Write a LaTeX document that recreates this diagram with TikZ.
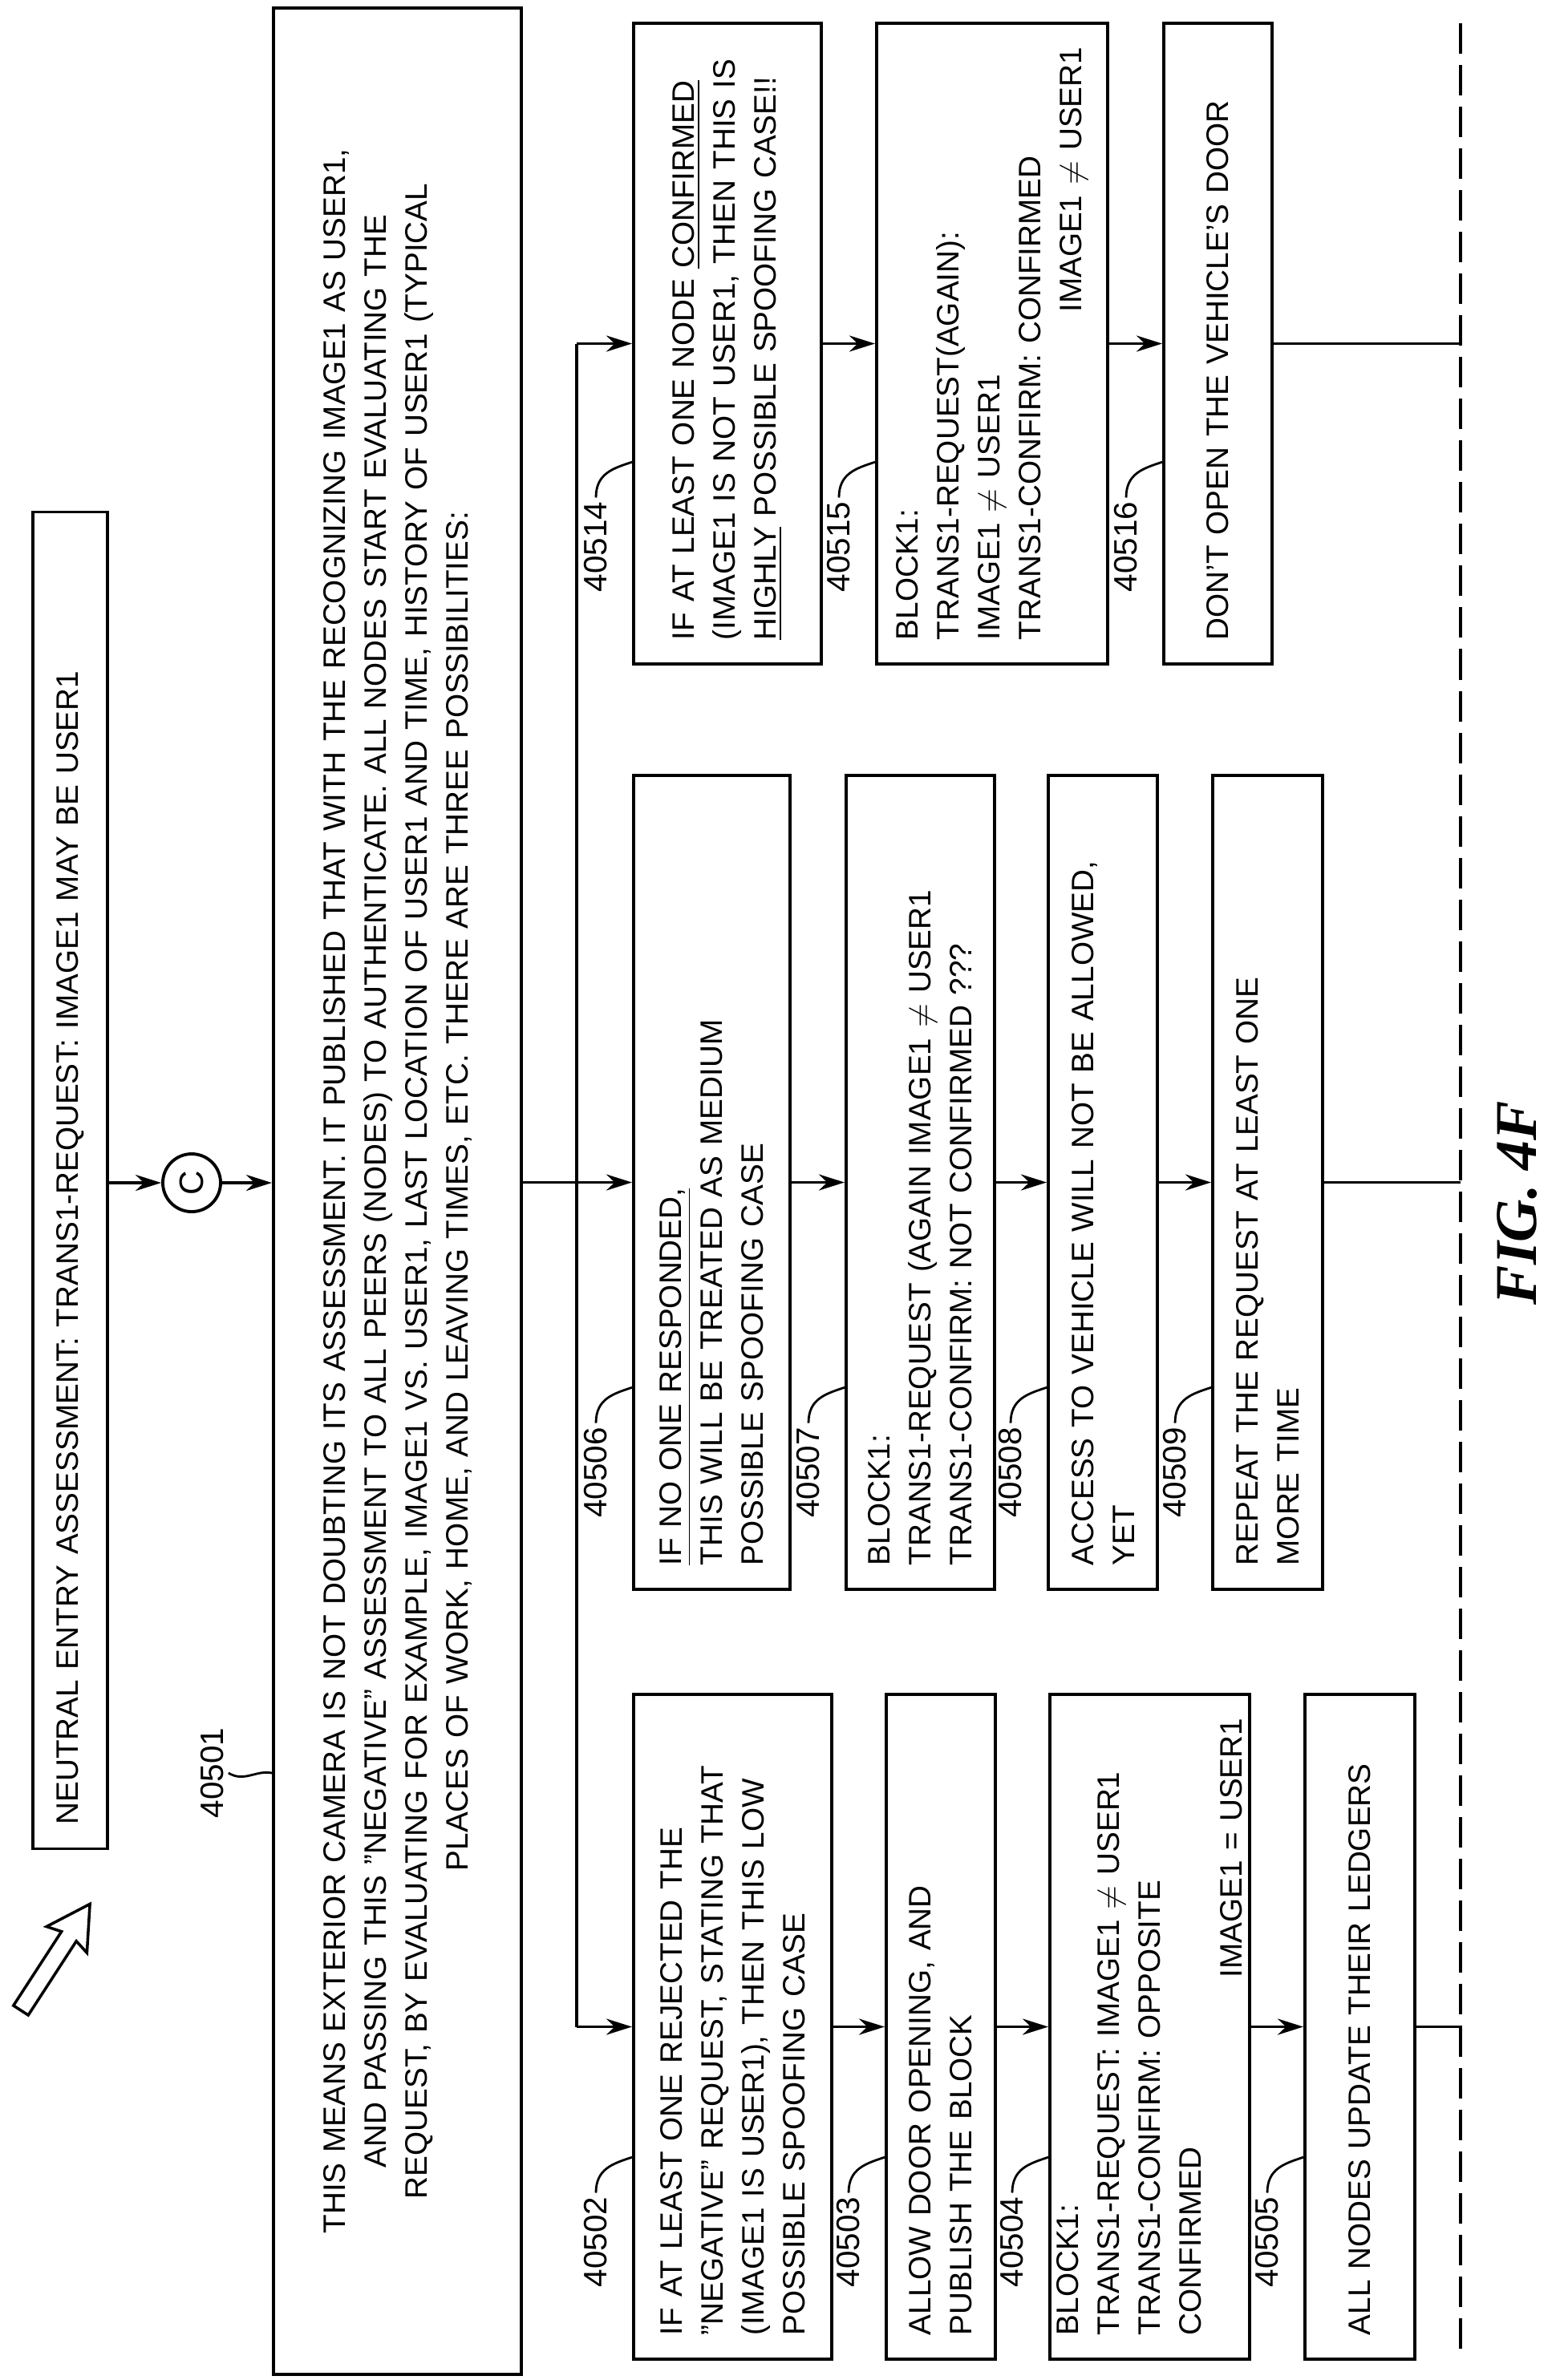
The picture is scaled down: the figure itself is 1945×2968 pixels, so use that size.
\documentclass[tikz,border=0pt]{standalone}
\usepackage{fontspec}
\setmainfont{Liberation Sans}
\newfontfamily\figfont{Liberation Serif}
\usetikzlibrary{arrows.meta,calc}
\begin{document}
\begin{tikzpicture}[x=0.01cm,y=-0.01cm,line width=1.1pt,
  box/.style={draw, rotate=90, inner xsep=0.3cm, inner ysep=0pt, align=left,
    font=\fontsize{11}{14.5}\selectfont},
  lbl/.style={rotate=90, inner sep=1pt, font=\fontsize{11.5}{13}\selectfont},
  flow/.style={-{Stealth[length=0.32cm,width=0.2cm]}}]
\useasboundingbox (0,0) rectangle (1945,2968);
% top of the chart
\node[box, minimum width=16.66cm, minimum height=0.93cm, text width=16.06cm] (entry) at (87.5,1472)
  {NEUTRAL ENTRY ASSESSMENT: TRANS1-REQUEST: IMAGE1 MAY BE USER1};
\node[draw, circle, minimum size=0.72cm, inner sep=0pt, rotate=90, font=\fontsize{12}{14}\selectfont] (C) at (239,1475) {C};
\node[box, align=center, minimum width=29.13cm, minimum height=3.09cm, text width=28.9cm] (n501) at (495.5,1485.5)
  {THIS MEANS EXTERIOR CAMERA IS NOT DOUBTING ITS ASSESSMENT. IT PUBLISHED THAT WITH THE RECOGNIZING IMAGE1 AS USER1,\\
   AND PASSING THIS \symbol{34}NEGATIVE\symbol{34} ASSESSMENT TO ALL PEERS (NODES) TO AUTHENTICATE. ALL NODES START EVALUATING THE\\
   REQUEST, BY EVALUATING FOR EXAMPLE, IMAGE1 VS. USER1, LAST LOCATION OF USER1 AND TIME, HISTORY OF USER1 (TYPICAL\\
   PLACES OF WORK, HOME, AND LEAVING TIMES, ETC. THERE ARE THREE POSSIBILITIES:};
% left branch
\node[box, minimum width=8.29cm, minimum height=2.47cm, text width=7.69cm] (n502) at (913.5,2527.5)
  {IF AT LEAST ONE REJECTED THE\\ \symbol{34}NEGATIVE\symbol{34} REQUEST, STATING THAT\\ (IMAGE1 IS USER1), THEN THIS LOW\\ POSSIBLE SPOOFING CASE};
\node[box, minimum width=8.29cm, minimum height=1.36cm, text width=7.69cm] (n503) at (1173,2527.5)
  {ALLOW DOOR OPENING, AND\\ PUBLISH THE BLOCK};
\node[box, minimum width=8.29cm, minimum height=2.49cm, text width=7.69cm] (n504) at (1433.5,2527.5)
  {BLOCK1:\\ TRANS1-REQUEST: IMAGE1 $\neq$ USER1\\ TRANS1-CONFIRM: OPPOSITE\\ CONFIRMED\\ \hspace*{\fill}IMAGE1 = USER1};
\node[box, minimum width=8.29cm, minimum height=1.37cm, text width=7.69cm] (n505) at (1695.5,2527.5)
  {ALL NODES UPDATE THEIR LEDGERS};
% middle branch
\node[box, minimum width=10.15cm, minimum height=1.95cm, text width=9.55cm] (n506) at (887.5,1474.5)
  {\underline{IF NO ONE RESPONDED,}\\ THIS WILL BE TREATED AS MEDIUM\\ POSSIBLE SPOOFING CASE};
\node[box, minimum width=10.15cm, minimum height=1.85cm, text width=9.55cm] (n507) at (1147.5,1474.5)
  {BLOCK1:\\ TRANS1-REQUEST (AGAIN IMAGE1 $\neq$ USER1\\ TRANS1-CONFIRM: NOT CONFIRMED ???};
\node[box, minimum width=10.15cm, minimum height=1.36cm, text width=9.55cm] (n508) at (1375,1474.5)
  {ACCESS TO VEHICLE WILL NOT BE ALLOWED,\\ YET};
\node[box, minimum width=10.15cm, minimum height=1.37cm, text width=9.55cm] (n509) at (1580.5,1474.5)
  {REPEAT THE REQUEST AT LEAST ONE\\ MORE TIME};
% right branch
\node[box, minimum width=7.99cm, minimum height=2.34cm, text width=7.39cm] (n514) at (907,428.5)
  {IF AT LEAST ONE NODE \underline{CONFIRMED}\\ (IMAGE1 IS NOT USER1, THEN THIS IS\\ \underline{HIGHLY} POSSIBLE SPOOFING CASE!!};
\node[box, minimum width=7.99cm, minimum height=2.88cm, text width=7.39cm] (n515) at (1237,428.5)
  {BLOCK1:\\ TRANS1-REQUEST(AGAIN):\\ IMAGE1 $\neq$ USER1\\ TRANS1-CONFIRM: CONFIRMED\\ \hspace*{\fill}IMAGE1 $\neq$ USER1};
\node[box, minimum width=7.99cm, minimum height=1.35cm, text width=7.39cm] (n516) at (1518.5,428.5)
  {DON'T OPEN THE VEHICLE'S DOOR};
% connectors
\coordinate (jT) at (719,428.5);
\coordinate (jB) at (719,2527.5);
\coordinate (dT) at (1821,29);
\coordinate (dB) at (1821,2942);
\draw[flow] (entry.south |- C) -- (C);
\draw[flow] (C) -- (C -| n501.north);
\draw[flow] (n501.south |- n506.north) -- (n506.north);
\draw (jT) -- (jB);
\draw[flow] (jT) -- (n514.north);
\draw[flow] (jB) -- (n502.north);
\draw[flow] (n502) -- (n503);
\draw[flow] (n503) -- (n504);
\draw[flow] (n504) -- (n505);
\draw[flow] (n506) -- (n507);
\draw[flow] (n507) -- (n508);
\draw[flow] (n508) -- (n509);
\draw[flow] (n514) -- (n515);
\draw[flow] (n515) -- (n516);
\draw[dash pattern=on 0.38cm off 0.14cm] (dT) -- (dB);
\draw (n505.south) -- (n505.south -| dT);
\draw (n509.south) -- (n509.south -| dT);
\draw (n516.south) -- (n516.south -| dT);
% reference numbers
\node[lbl] (l40501) at (265,2211) {40501};
\draw[line width=0.8pt] (l40501.south) .. controls +(20,12) and +(-20,-4) .. (n501.north |- l40501.south);
\foreach \b/\n in {n502/40502,n503/40503,n504/40504,n505/40505,n506/40506,n507/40507,
                   n508/40508,n509/40509,n514/40514,n515/40515,n516/40516} {
  \node[lbl] (l\n) at ($(\b.north west)+(-45,-148)$) {\n};
  \draw[line width=0.8pt] (l\n.east) .. controls +(0,-30) and +(-24,8) .. ($(\b.north west)+(0,-254)$);
}
% hollow arrow
\draw[line width=1pt, shift={(26,2507)}, rotate=57]
  (0cm,-0.11cm) -- (1.1cm,-0.11cm) -- (1.05cm,-0.3cm) -- (1.58cm,0cm)
  -- (1.05cm,0.3cm) -- (1.1cm,0.11cm) -- (0cm,0.11cm) -- cycle;
\node[rotate=90, font=\figfont\bfseries\itshape\fontsize{21}{24}\selectfont] (fig) at (1892,1500) {FIG. 4F};
\end{tikzpicture}
\end{document}
